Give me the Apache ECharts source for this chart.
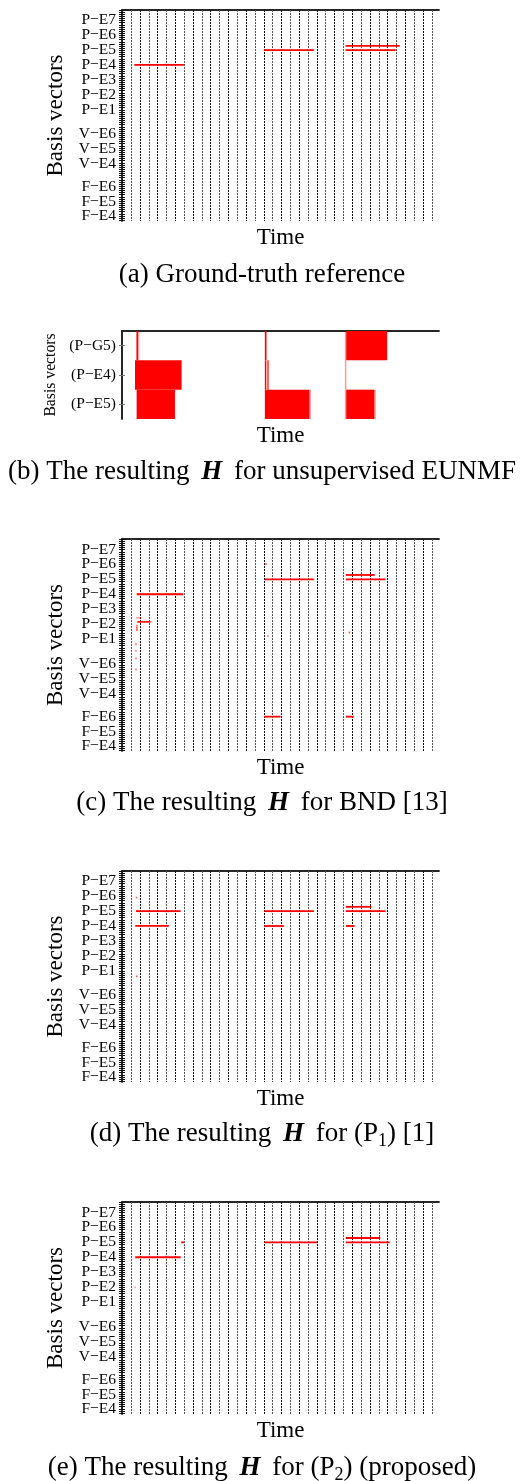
<!DOCTYPE html>
<html>
<head>
<meta charset="utf-8">
<script src="https://cdn.jsdelivr.net/npm/echarts@6/dist/echarts.min.js"></script>
<style>
html, body { margin: 0; padding: 0; background: #fff; }
#main { width: 524px; height: 1481px; }
</style>
</head>
<body>
<div id="main"></div>
<script>
// basis vector rows (value axis, 0 = top)
var basisNames = ['P−E7', 'P−E6', 'P−E5', 'P−E4', 'P−E3', 'P−E2', 'P−E1', 'V−E6', 'V−E5', 'V−E4', 'F−E6', 'F−E5', 'F−E4'];
var basisPos = [0.7, 1.7, 2.7, 3.7, 4.7, 5.7, 6.7, 8.35, 9.35, 10.35, 11.9, 12.9, 13.85];
var basisMax = 14.2;
var eunmfNames = ['(P−G5)', '(P−E4)', '(P−E5)'];
var eunmfPos = [0.5, 1.5, 2.5];
var eunmfMax = 3;
var timeMax = 35.84;
var timeBlocks = 35; // vertical separators at 1..35

// segments: [start time, end time, row, level]
var truthSegs = [
	[1.39, 7.0, 3.7, 1], [16.04, 21.69, 2.7, 1],
	[25.27, 31.4, 2.41, 1], [25.27, 30.95, 2.7, 1]
];
var eunmfBlocks = [
	[1.63, 1.81, 0.5, 1], [1.81, 1.95, 0.5, 0.35], [16.15, 16.34, 0.5, 1], [25.35, 29.98, 0.5, 1], [25.2, 25.35, 0.5, 0.4],
	[1.47, 6.74, 1.5, 1], [16.15, 16.31, 1.5, 1], [16.42, 16.5, 1.5, 0.8], [25.2, 25.35, 1.5, 0.4],
	[1.69, 5.99, 2.5, 1], [1.6, 1.69, 2.5, 0.4], [16.15, 21.2, 2.5, 1], [21.2, 21.3, 2.5, 0.35],
	[25.35, 28.54, 2.5, 1], [25.2, 25.35, 2.5, 0.4], [28.54, 28.64, 2.5, 0.35]
];
var bndSegs = [
	[1.66, 6.92, 3.7, 1], [1.73, 3.24, 5.55, 0.9], [1.6, 2.2, 5.28, 0.35],
	[1.6, 1.75, 5.8, 0.7], [1.6, 1.75, 5.95, 0.8], [1.6, 1.75, 6.1, 0.8],
	[1.5, 1.6, 7.05, 0.6], [1.5, 1.6, 7.5, 0.5], [1.5, 1.6, 8.0, 0.6], [1.5, 1.6, 8.74, 0.5],
	[16.2, 16.35, 1.68, 0.7], [16.15, 21.69, 2.7, 1], [16.4, 16.5, 6.5, 0.5], [16.07, 17.93, 11.9, 1],
	[25.3, 28.57, 2.41, 1], [25.3, 29.78, 2.7, 1], [25.62, 25.72, 6.26, 0.7], [25.3, 26.2, 11.9, 1]
];
var p1Segs = [
	[1.55, 1.65, 1.79, 0.6], [1.58, 6.63, 2.7, 1], [1.5, 5.3, 3.7, 1], [1.57, 1.67, 7.09, 0.7],
	[16.1, 21.7, 2.7, 1], [16.1, 18.3, 3.7, 1],
	[25.3, 28.2, 2.41, 1], [25.3, 29.8, 2.7, 1], [25.3, 26.3, 3.7, 1]
];
var p2Segs = [
	[1.5, 6.63, 3.7, 1], [6.7, 7.0, 2.7, 1], [1.42, 1.52, 5.72, 0.4],
	[16.1, 22.06, 2.7, 1],
	[25.3, 29.2, 2.41, 1], [25.3, 30.27, 2.7, 1]
];

var captions = [
	'{n|(a) Ground-truth reference}',
	'{n|(b) The resulting }{h|H}{n| for unsupervised EUNMF}',
	'{n|(c) The resulting }{h|H}{n| for BND [13]}',
	'{n|(d) The resulting }{h|H}{n| for (P}{s|1}{n|) [1]}',
	'{n|(e) The resulting }{h|H}{n| for (P}{s|2}{n|) (proposed)}'
];

var serif = 'Liberation Serif';
var panels = [
	{top: 10, height: 211, segs: truthSegs, cap: 275},
	{top: 331, height: 88, segs: eunmfBlocks, cap: 472, small: true},
	{top: 539, height: 212, segs: bndSegs, cap: 803},
	{top: 871, height: 211, segs: p1Segs, cap: 1134},
	{top: 1202, height: 212, segs: p2Segs, cap: 1468}
];

// one tick per row of H
var rowTicks = [];
for (var t = 0; t <= basisMax + 0.001; t += 1 / 7) {
	rowTicks.push(t);
}
var separators = [];
for (var k = 1; k <= timeBlocks; k++) {
	separators.push([k]);
}

function pick(names, pos) {
	return function(v) {
		for (var k = 0; k < pos.length; k++) {
			if (Math.abs(pos[k] - v) < 0.01) return names[k];
		}
		return '';
	};
}

function makeRender(rowH) {
	return function(params, api) {
		var p0 = api.coord([api.value(0), api.value(2)]);
		var p1 = api.coord([api.value(1), api.value(2)]);
		var h = Math.abs(api.size([0, rowH])[1]);
		var w = Math.max(p1[0] - p0[0], 1.5);
		return {
			type: 'rect',
			shape: {x: p0[0], y: p0[1] - h / 2, width: w, height: h},
			style: {fill: 'rgba(255,0,0,' + api.value(3) + ')'}
		};
	};
}

function makeSeparator(ymax) {
	return function(params, api) {
		var a = api.coord([api.value(0), 0]);
		var b = api.coord([api.value(0), ymax]);
		var x = Math.round(a[0]) + 0.5;
		return {
			type: 'line',
			shape: {x1: x, y1: a[1], x2: x, y2: b[1]},
			style: {stroke: params.dataIndex % 2 ? '#111' : '#555', lineWidth: 1, lineDash: [2, 1]}
		};
	};
}

var dom = document.getElementById('main');
var myChart = echarts.init(dom, null, {renderer: 'canvas'});
var grid = [], xAxis = [], yAxis = [], series = [], graphic = [];
var border = {show: true, lineStyle: {color: '#1a1a1a', width: 1.5}};

panels.forEach(function(p, i) {
	grid.push({left: 122, width: 317, top: p.top, height: p.height});
	xAxis.push({
		type: 'value', gridIndex: i, min: 0, max: timeMax,
		name: 'Time', nameLocation: 'middle', nameGap: 5.5,
		nameTextStyle: {fontFamily: serif, fontSize: 23, color: '#000'},
		axisLine: border, axisTick: {show: false}, axisLabel: {show: false},
		splitLine: {show: false}
	});
	xAxis.push({
		type: 'value', gridIndex: i, position: 'top', min: 0, max: timeMax,
		axisLine: border, axisTick: {show: false}, axisLabel: {show: false}, splitLine: {show: false}
	});
	var names = p.small ? eunmfNames : basisNames;
	var pos = p.small ? eunmfPos : basisPos;
	var ymax = p.small ? eunmfMax : basisMax;
	var ticks = p.small ? eunmfPos : rowTicks;
	var tickStyle = p.small ? {color: '#777', width: 1} : {color: '#111', width: 1};
	// blank end values keep the min/max label check away from the real labels
	var labelValues = [0].concat(pos, [ymax]);
	yAxis.push({
		type: 'value', gridIndex: i, inverse: true, min: 0, max: ymax,
		name: 'Basis vectors', nameLocation: 'middle', nameRotate: 90,
		nameGap: p.small ? 61.5 : 54,
		nameTextStyle: {fontFamily: serif, fontSize: p.small ? 15.7 : 23, color: '#000'},
		axisLine: border,
		axisTick: {show: true, inside: true, length: 3, customValues: ticks, lineStyle: tickStyle},
		axisLabel: {customValues: labelValues, formatter: pick(names, pos), margin: 6,
			hideOverlap: false, fontFamily: serif, fontSize: 15.5, color: '#000'},
		splitLine: {show: false}
	});
	yAxis.push({
		type: 'value', gridIndex: i, position: 'right', inverse: true, min: 0, max: ymax,
		axisLine: border,
		axisTick: {show: true, inside: true, length: 3, customValues: ticks, lineStyle: tickStyle},
		axisLabel: {show: false}, splitLine: {show: false}
	});
	if (!p.small) {
		series.push({
			type: 'custom', xAxisIndex: 2 * i, yAxisIndex: 2 * i,
			renderItem: makeSeparator(ymax),
			encode: {x: 0},
			data: separators, z: 1, silent: true
		});
	}
	series.push({
		type: 'custom', xAxisIndex: 2 * i, yAxisIndex: 2 * i,
		renderItem: makeRender(p.small ? 1 : 0.12),
		encode: {x: [0, 1], y: 2},
		data: p.segs, z: 5
	});
	graphic.push({
		type: 'text', x: 262, y: p.cap,
		style: {
			text: captions[i], align: 'center', verticalAlign: 'middle',
			rich: {
				n: {fontFamily: serif, fontSize: 27, color: '#000', lineHeight: 32},
				h: {fontFamily: serif, fontSize: 27, fontStyle: 'italic', fontWeight: 'bold', color: '#000', padding: [0, 5], lineHeight: 32},
				s: {fontFamily: serif, fontSize: 18, color: '#000', verticalAlign: 'bottom', lineHeight: 20}
			}
		}
	});
});

var option = {
	animation: false,
	grid: grid,
	xAxis: xAxis,
	yAxis: yAxis,
	series: series,
	graphic: graphic
};
myChart.setOption(option, true);
</script>
</body>
</html>
